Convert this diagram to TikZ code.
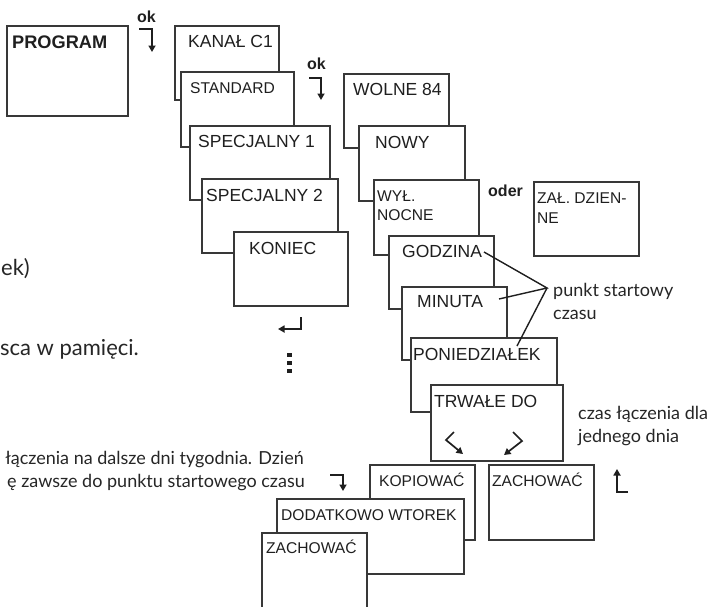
\documentclass[tikz,border=0pt]{standalone}
\usepackage{fontspec}
\setmainfont{Liberation Sans}
\newfontfamily\notefont{Lato}
\usetikzlibrary{arrows.meta}

% frame: name, left, top, right, bottom
\newcommand\panel[5]{%
  \node[frame, minimum width={#4-#2}, minimum height={#5-#3}] (#1) at (#2,#3) {};}

\begin{document}
\begin{tikzpicture}[x=1pt, y=-1pt,
  frame/.style={draw=black!78, line width=1.1pt, fill=white, inner sep=0pt,
    outer sep=0pt, anchor=north west},
  big/.style={font=\fontsize{17.5}{20}\selectfont, text=black!88, anchor=base west,
    inner sep=0pt},
  small/.style={font=\fontsize{15.6}{19}\selectfont, text=black!88, anchor=base west,
    inner sep=0pt, align=left},
  note/.style={font=\notefont\fontsize{18}{23}\selectfont, text=black!85,
    inner sep=0pt, align=left},
  bignote/.style={note, font=\notefont\fontsize{22}{27}\selectfont},
  okl/.style={font=\bfseries\fontsize{16}{18}\selectfont, text=black!88,
    anchor=base west, inner sep=0pt},
  turn/.style={line width=1.8pt, draw=black!88,
    -{Triangle[length=6.5pt,width=7pt]}},
  pointer/.style={line width=1.4pt, draw=black!88},
]
\useasboundingbox (0,0) rectangle (712,606);
\clip (0,0) rectangle (712,606);
\fill[white] (0,0) rectangle (712,606);

% tail ends of the running text on the left
\node[bignote, anchor=base west] (txa) at (1,275) {ek)};
\node[bignote, anchor=base east] (txb) at (139,355) {sca w pamięci.};
\node[note, anchor=base east] (txc) at (304,464) {łączenia na dalsze dni tygodnia. Dzień};
\node[note, anchor=base east] (txd) at (305,487) {ę zawsze do punktu startowego czasu};

% start
\panel{program}{7}{26}{128}{116}
\node[big, font=\bfseries\fontsize{18.2}{20}\selectfont] (t-program) at (12,48) {PROGRAM};
\node[okl] (ok1) at (137,22) {ok};
\coordinate (ok1a) at (139,29);
\coordinate (ok1b) at (152,29);
\coordinate (ok1c) at (152,52);
\draw[turn] (ok1a) -- (ok1b) -- (ok1c);

% channel / program stack
\panel{kanal}{175}{26}{279}{100}
\node[big] (t-kanal) at (188,47) {KANAŁ C1};
\panel{standard}{181}{72}{294}{147}
\node[small] (t-standard) at (190,93) {STANDARD};
\panel{spec1}{190}{126}{330}{200}
\node[big] (t-spec1) at (198,147) {SPECJALNY 1};
\panel{spec2}{202}{179}{338}{253}
\node[big] (t-spec2) at (206,201) {SPECJALNY 2};
\panel{koniec}{234}{232}{348}{306}
\node[big] (t-koniec) at (249,254) {KONIEC};

% return mark and continuation dots
\coordinate (reta) at (301,317);
\coordinate (retb) at (301,329);
\coordinate (retc) at (278,329);
\draw[turn] (reta) -- (retb) -- (retc);
\foreach \yy [count=\i] in {355,363,371}
  \node[fill=black!88, minimum size=4.5pt, inner sep=0pt] (dot\i) at (289.5,\yy) {};

\node[okl] (ok2) at (307,69) {ok};
\coordinate (ok2a) at (309,78);
\coordinate (ok2b) at (321,78);
\coordinate (ok2c) at (321,100);
\draw[turn] (ok2a) -- (ok2b) -- (ok2c);

% switching program stack
\panel{wolne}{344}{74}{449}{148}
\node[big] (t-wolne) at (353,95) {WOLNE 84};
\panel{nowy}{359}{126}{465}{201}
\node[big] (t-nowy) at (375,148) {NOWY};
\panel{wyl}{374}{180}{479}{255}
\node[small, font=\fontsize{15.6}{18.5}\selectfont] (t-wyl) at (377,220) {WYŁ.\\NOCNE};
\node[okl] (oder) at (488,196) {oder};
\panel{zal}{534}{182}{639}{256}
\node[small, font=\fontsize{15.6}{20}\selectfont] (t-zal) at (537,223) {ZAŁ. DZIEN-\\NE};
\panel{godzina}{389}{236}{494}{309}
\node[big] (t-godzina) at (402,257) {GODZINA};
\panel{minuta}{402}{287}{507}{360}
\node[big] (t-minuta) at (417,307) {MINUTA};
\panel{pon}{411}{338}{557}{412}
\node[big] (t-pon) at (413,360) {PONIEDZIAŁEK};
\panel{trwale}{431}{385}{563}{461}
\node[big] (t-trwale) at (434,407) {TRWAŁE DO};

% direction marks inside the duration frame
\coordinate (la) at (454,432);
\coordinate (lb) at (446,440);
\coordinate (lc) at (463,454);
\draw[turn, line width=1.7pt] (la) -- (lb) -- (lc);
\coordinate (ra) at (513,432);
\coordinate (rb) at (522,441);
\coordinate (rc) at (504,455);
\draw[turn, line width=1.7pt] (ra) -- (rb) -- (rc);

% start time callout
\coordinate (hub) at (547,288);
\coordinate (pg) at (484,252);
\coordinate (pm) at (499,299);
\coordinate (pp) at (517,346);
\draw[pointer] (pg) -- (hub) -- (pm);
\draw[pointer] (hub) -- (pp);
\node[note, anchor=base west] (t-start) at (553,319) {punkt startowy\\czasu};
\node[note, anchor=base west] (t-dzien) at (578,442) {czas łączenia dla\\jednego dnia};

% copy / save
\coordinate (ok3a) at (330,475);
\coordinate (ok3b) at (343,475);
\coordinate (ok3c) at (343,491);
\draw[turn] (ok3a) -- (ok3b) -- (ok3c);
\panel{kopiuj}{370}{465}{475}{540}
\node[small] (t-kopiuj) at (379,486) {KOPIOWAĆ};
\panel{zach1}{489}{465}{594}{540}
\node[small] (t-zach1) at (492,486) {ZACHOWAĆ};
\coordinate (upa) at (628,492);
\coordinate (upb) at (617,492);
\coordinate (upc) at (617,469);
\draw[turn] (upa) -- (upb) -- (upc);
\panel{dodat}{277}{499}{464}{574}
\node[small] (t-dodat) at (281,520) {DODATKOWO WTOREK};
\panel{zach2}{262}{533}{367}{630}
\node[small] (t-zach2) at (266,553) {ZACHOWAĆ};
\end{tikzpicture}
\end{document}
